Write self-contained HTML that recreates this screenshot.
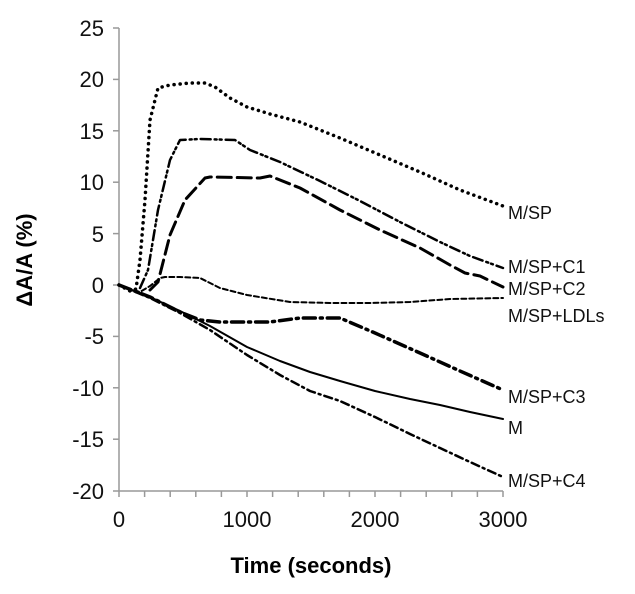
<!DOCTYPE html>
<html><head><meta charset="utf-8"><style>
html,body{margin:0;padding:0;background:#fff;}
svg{display:block;font-family:"Liberation Sans",Arial,sans-serif;}
</style></head><body>
<svg width="635" height="594" viewBox="0 0 635 594" xmlns="http://www.w3.org/2000/svg">
<g stroke="#999" stroke-width="1.5" fill="none">
<line x1="119" y1="28" x2="119" y2="491"/>
<line x1="119" y1="491" x2="503" y2="491"/>
<line x1="113" y1="28" x2="119" y2="28"/>
<line x1="113" y1="79.4" x2="119" y2="79.4"/>
<line x1="113" y1="130.8" x2="119" y2="130.8"/>
<line x1="113" y1="182.2" x2="119" y2="182.2"/>
<line x1="113" y1="233.6" x2="119" y2="233.6"/>
<line x1="113" y1="285" x2="119" y2="285"/>
<line x1="113" y1="336.4" x2="119" y2="336.4"/>
<line x1="113" y1="387.8" x2="119" y2="387.8"/>
<line x1="113" y1="439.2" x2="119" y2="439.2"/>
<line x1="113" y1="491" x2="119" y2="491"/>
<path d="M119 491v6M144.6 491v6M170.2 491v6M195.8 491v6M221.4 491v6M247 491v6M272.6 491v6M298.2 491v6M323.8 491v6M349.4 491v6M375 491v6M400.6 491v6M426.2 491v6M451.8 491v6M477.4 491v6M503 491v6"/>
</g>
<g font-size="22" text-anchor="end" fill="#111">
<text x="104" y="36">25</text><text x="104" y="87">20</text><text x="104" y="139">15</text>
<text x="104" y="190">10</text><text x="104" y="242">5</text><text x="104" y="293">0</text>
<text x="104" y="344">-5</text><text x="104" y="396">-10</text><text x="104" y="447">-15</text>
<text x="104" y="499">-20</text>
</g>
<g font-size="22" text-anchor="middle" fill="#111">
<text x="119" y="527">0</text><text x="247" y="527">1000</text><text x="375" y="527">2000</text><text x="503" y="527">3000</text>
</g>
<text x="311" y="573" font-size="22" font-weight="bold" text-anchor="middle">Time (seconds)</text>
<text transform="translate(32,260) rotate(-90)" font-size="22" font-weight="bold" text-anchor="middle">ΔA/A (%)</text>
<g font-size="18" fill="#111">
<text x="508" y="219">M/SP</text><text x="508" y="273">M/SP+C1</text><text x="508" y="295">M/SP+C2</text>
<text x="508" y="322">M/SP+LDLs</text><text x="508" y="403">M/SP+C3</text><text x="508" y="434">M</text>
<text x="508" y="487">M/SP+C4</text>
</g>
<g fill="none" stroke="#000" stroke-linecap="round" stroke-linejoin="round">
<!-- M solid -->
<polyline stroke-width="2" points="119,285 150,297 180,311 210,326 247,347 280,361 310,372 340,381 375,391 410,399 440,405 470,412 503,419"/>
<!-- C4 -->
<polyline stroke-width="2.5" stroke-dasharray="8 4 2 4" points="119,285 150,298 180,313 210,330 247,355 280,375 310,391 340,401 375,417 410,434 440,448 470,462 503,477"/>
<!-- C3 -->
<polyline stroke-width="3.5" stroke-dasharray="12 5 2 5" points="119,285 150,297 180,312 200,320 220,322 270,322 300,318 340,318 375,333 420,353 460,371 503,390"/>
<!-- LDLs -->
<polyline stroke-width="2" stroke-dasharray="5 3" points="119,285 140,292 150,286 160,278 165,277 180,277 200,278 220,288 247,295 290,302 330,303 370,303 410,302 450,299 503,298"/>
<!-- C2 -->
<polyline stroke-width="3" stroke-dasharray="14 6" points="150,290 158,282 170,235 185,200 205,178 210,177 260,178 270,176 300,188 340,210 380,230 420,248 450,265 465,273 480,276 503,287"/>
<!-- C1 -->
<polyline stroke-width="2.5" stroke-dasharray="10 4 2 3 2 4" points="140,288 148,270 158,210 170,160 180,140 200,139 235,140 250,150 280,162 320,181 360,201 400,222 440,242 470,256 503,268"/>
<!-- M/SP dotted -->
<polyline stroke-width="3.5" stroke-dasharray="0.1 6" points="119,285 130,291 136,289 140,260 145,200 150,120 158,88 170,85 190,83 205,83 215,87 230,98 247,107 270,114 300,122 340,138 380,155 420,172 460,190 503,206"/>
</g>
</svg>
</body></html>
